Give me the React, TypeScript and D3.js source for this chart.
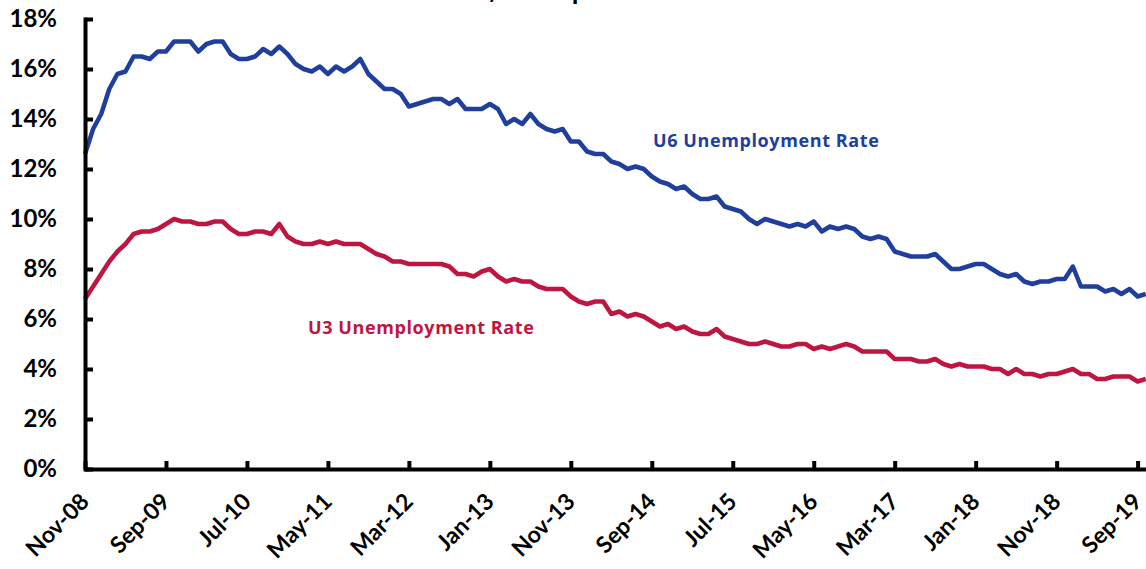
import React, { useEffect, useRef } from "react";
import * as d3 from "d3";

// Monthly categories start Nov-08, 132 months (through Oct-19)
const startMonth = new Date(2008, 10, 1);
const u6Rate = [
  12.6, 13.6,
  14.2, 15.2, 15.8, 15.9, 16.5, 16.5, 16.4, 16.7, 16.7, 17.1, 17.1, 17.1,
  16.7, 17.0, 17.1, 17.1, 16.6, 16.4, 16.4, 16.5, 16.8, 16.6, 16.9, 16.6,
  16.2, 16.0, 15.9, 16.1, 15.8, 16.1, 15.9, 16.1, 16.4, 15.8, 15.5, 15.2,
  15.2, 15.0, 14.5, 14.6, 14.7, 14.8, 14.8, 14.6, 14.8, 14.4, 14.4, 14.4,
  14.6, 14.4, 13.8, 14.0, 13.8, 14.2, 13.8, 13.6, 13.5, 13.6, 13.1, 13.1,
  12.7, 12.6, 12.6, 12.3, 12.2, 12.0, 12.1, 12.0, 11.7, 11.5, 11.4, 11.2,
  11.3, 11.0, 10.8, 10.8, 10.9, 10.5, 10.4, 10.3, 10.0, 9.8, 10.0, 9.9,
  9.8, 9.7, 9.8, 9.7, 9.9, 9.5, 9.7, 9.6, 9.7, 9.6, 9.3, 9.2,
  9.3, 9.2, 8.7, 8.6, 8.5, 8.5, 8.5, 8.6, 8.3, 8.0, 8.0, 8.1,
  8.2, 8.2, 8.0, 7.8, 7.7, 7.8, 7.5, 7.4, 7.5, 7.5, 7.6, 7.6,
  8.1, 7.3, 7.3, 7.3, 7.1, 7.2, 7.0, 7.2, 6.9, 7.0,
];
const u3Rate = [
  6.8, 7.3,
  7.8, 8.3, 8.7, 9.0, 9.4, 9.5, 9.5, 9.6, 9.8, 10.0, 9.9, 9.9,
  9.8, 9.8, 9.9, 9.9, 9.6, 9.4, 9.4, 9.5, 9.5, 9.4, 9.8, 9.3,
  9.1, 9.0, 9.0, 9.1, 9.0, 9.1, 9.0, 9.0, 9.0, 8.8, 8.6, 8.5,
  8.3, 8.3, 8.2, 8.2, 8.2, 8.2, 8.2, 8.1, 7.8, 7.8, 7.7, 7.9,
  8.0, 7.7, 7.5, 7.6, 7.5, 7.5, 7.3, 7.2, 7.2, 7.2, 6.9, 6.7,
  6.6, 6.7, 6.7, 6.2, 6.3, 6.1, 6.2, 6.1, 5.9, 5.7, 5.8, 5.6,
  5.7, 5.5, 5.4, 5.4, 5.6, 5.3, 5.2, 5.1, 5.0, 5.0, 5.1, 5.0,
  4.9, 4.9, 5.0, 5.0, 4.8, 4.9, 4.8, 4.9, 5.0, 4.9, 4.7, 4.7,
  4.7, 4.7, 4.4, 4.4, 4.4, 4.3, 4.3, 4.4, 4.2, 4.1, 4.2, 4.1,
  4.1, 4.1, 4.0, 4.0, 3.8, 4.0, 3.8, 3.8, 3.7, 3.8, 3.8, 3.9,
  4.0, 3.8, 3.8, 3.6, 3.6, 3.7, 3.7, 3.7, 3.5, 3.6,
];
const tickLabels = [
  "Nov-08", "Sep-09", "Jul-10", "May-11", "Mar-12", "Jan-13", "Nov-13",
  "Sep-14", "Jul-15", "May-16", "Mar-17", "Jan-18", "Nov-18", "Sep-19",
];
const yTicks = [0, 2, 4, 6, 8, 10, 12, 14, 16, 18];
const seriesNames = ["U6 Unemployment Rate", "U3 Unemployment Rate"];
const titleText = "U3 and U6 Rates, A Comparison";

const months = u6Rate.map((_, i) => d3.timeMonth.offset(startMonth, i));
const monthFmt = d3.timeFormat("%b-%y");
const categories = months.map((m) => monthFmt(m));

const W = 1146;
const H = 569;
const BLUE = "#203E9C";
const RED = "#BF1541";

export default function App() {
  const xRef = useRef<SVGGElement>(null);
  const yRef = useRef<SVGGElement>(null);

  const x = d3.scaleLinear().domain([0, categories.length - 1]).range([85, 85 + 131 * 8.097]);
  const y = d3.scaleLinear().domain([0, 18]).range([469, 19]);

  const tickIdx = tickLabels.map((l) => categories.indexOf(l));

  useEffect(() => {
    const yAxis = d3
      .axisLeft(y)
      .tickValues(yTicks)
      .tickSizeInner(-8)
      .tickSizeOuter(0)
      .tickPadding(28)
      .tickFormat((d) => `${d}%`);
    const gy = d3.select(yRef.current!);
    gy.call(yAxis as any);
    gy.select(".domain").attr("stroke", "#000").attr("stroke-width", 4).attr("stroke-linecap", "square");
    gy.selectAll(".tick line").attr("stroke", "#000").attr("stroke-width", 4);
    gy.selectAll(".tick text")
      .attr("fill", "#000")
      .style("font-family", "Lato, 'Open Sans', sans-serif")
      .style("font-weight", 700)
      .style("font-size", "24px");

    const xAxis = d3
      .axisBottom(x)
      .tickValues(tickIdx)
      .tickSizeInner(-8)
      .tickSizeOuter(0)
      .tickFormat((d) => categories[d as number]);
    const gx = d3.select(xRef.current!);
    gx.call(xAxis as any);
    gx.select(".domain").attr("stroke", "#000").attr("stroke-width", 4);
    gx.selectAll(".tick line").attr("stroke", "#000").attr("stroke-width", 4);
    gx.selectAll(".tick text")
      .attr("fill", "#000")
      .attr("x", 0)
      .attr("y", 0)
      .attr("dy", 0)
      .attr("text-anchor", "end")
      .attr("transform", "translate(5,34) rotate(-45)")
      .style("font-family", "Lato, 'Open Sans', sans-serif")
      .style("font-weight", 700)
      .style("font-size", "23px");
  }, []);

  const line = d3
    .line<number>()
    .x((_, i) => x(i))
    .y((d) => y(d));

  return (
    <div style={{ position: "absolute", left: 0, top: 0, width: W, height: H, background: "#fff" }}>
      <svg width={W} height={H} style={{ display: "block" }}>
        <rect x={0} y={0} width={W} height={H} fill="#fff" />
        <text
          x={311}
          y={-1}
          fill="#000"
          style={{ fontFamily: "'Open Sans', sans-serif", fontWeight: 700, fontSize: 22 }}
        >
          {titleText}
        </text>
        <path d={line(u6Rate) || ""} fill="none" stroke={BLUE} strokeWidth={4.5} strokeLinejoin="round" />
        <path d={line(u3Rate) || ""} fill="none" stroke={RED} strokeWidth={4.5} strokeLinejoin="round" />
        <g ref={yRef} transform={`translate(85,0)`} />
        <g ref={xRef} transform={`translate(0,469)`} />
        <text
          x={653}
          y={147}
          fill={BLUE}
          letterSpacing={0.6}
          style={{ fontFamily: "'Open Sans', sans-serif", fontWeight: 700, fontSize: 18 }}
        >
          {seriesNames[0]}
        </text>
        <text
          x={308}
          y={334}
          fill={RED}
          letterSpacing={0.6}
          style={{ fontFamily: "'Open Sans', sans-serif", fontWeight: 700, fontSize: 18 }}
        >
          {seriesNames[1]}
        </text>
      </svg>
    </div>
  );
}
